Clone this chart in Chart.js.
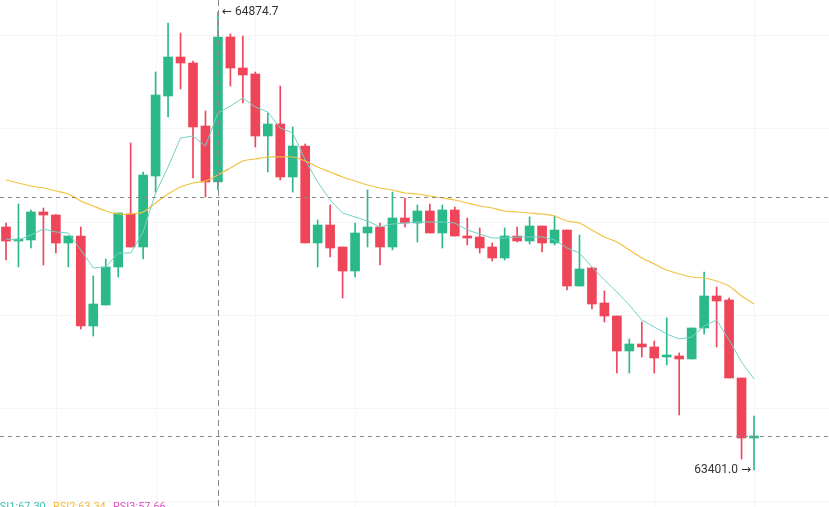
<!DOCTYPE html>
<html>
<head>
<meta charset="utf-8">
<script src="https://cdn.jsdelivr.net/npm/chart.js@4.4.1/dist/chart.umd.min.js"></script>
<style>
  html, body { margin: 0; padding: 0; background: #fff; }
  #wrap { width: 829px; height: 507px; position: relative; }
</style>
</head>
<body>
<div id="wrap"><canvas id="graphique"></canvas></div>
<script>
// bougies (61 bougies)
const opens = [64182.9, 64137.8, 64141.1, 64231.2, 64221.5, 64131.4, 64153.9, 63864.3, 63931.9, 64054.2,
  64224.7, 64118.5, 64347.0, 64604.4, 64729.9, 64710.6, 64507.9, 64327.7, 64794.2, 64694.5,
  64675.2, 64475.7, 64514.3, 64343.8, 64443.5, 64131.4, 64189.3, 64118.5, 64041.3, 64163.6,
  64182.9, 64118.5, 64211.8, 64195.8, 64234.4, 64163.6, 64237.6, 64153.9, 64150.7, 64118.5,
  64083.1, 64153.9, 64137.8, 64186.1, 64131.4, 64173.2, 63993.0, 64051.0, 63938.3, 63896.5,
  63783.9, 63806.4, 63796.8, 63764.6, 63767.8, 63758.2, 63857.9, 63960.9, 63948.0, 63697.0,
  63503.9];
const highs = [64195.8, 64256.9, 64237.6, 64244.0, 64223.0, 64153.9, 64182.9, 64025.2, 64079.9, 64227.9,
  64453.2, 64359.9, 64681.6, 64839.3, 64807.1, 64717.0, 64556.1, 64874.7, 64803.9, 64797.5,
  64681.6, 64549.7, 64636.6, 64504.7, 64450.0, 64205.4, 64253.7, 64118.5, 64195.8, 64301.9,
  64195.8, 64295.5, 64276.2, 64253.7, 64256.9, 64253.7, 64247.2, 64211.8, 64179.7, 64131.4,
  64179.7, 64182.9, 64215.1, 64186.1, 64218.3, 64173.2, 64157.1, 64054.2, 63977.0, 63896.5,
  63822.5, 63877.2, 63816.1, 63890.1, 63777.5, 63857.9, 64038.1, 63989.8, 63954.4, 63697.0,
  63574.7];
const lows = [64076.7, 64054.2, 64115.3, 64060.6, 64099.2, 64054.2, 63854.7, 63832.2, 63931.9, 64022.0,
  64118.5, 64079.9, 64295.5, 64536.8, 64626.9, 64340.6, 64279.4, 64301.9, 64636.6, 64581.9,
  64440.3, 64359.9, 64334.1, 64295.5, 64131.4, 64054.2, 64086.4, 63954.4, 64022.0, 64118.5,
  64060.6, 64108.9, 64182.9, 64134.6, 64163.6, 64115.3, 64153.9, 64125.0, 64099.2, 64073.5,
  64076.7, 64134.6, 64128.2, 64102.4, 64125.0, 63980.2, 63993.0, 63919.0, 63877.2, 63713.1,
  63713.1, 63764.6, 63713.1, 63738.8, 63578.0, 63758.2, 63838.6, 63796.8, 63697.0, 63436.4,
  63401.0];
const closes = [64137.8, 64144.3, 64231.2, 64221.5, 64131.4, 64153.9, 63864.3, 63935.1, 64054.2, 64227.9,
  64118.5, 64350.2, 64607.6, 64729.9, 64710.6, 64504.7, 64327.7, 64794.2, 64694.5, 64672.0,
  64475.7, 64514.3, 64343.8, 64443.5, 64131.4, 64189.3, 64115.3, 64041.3, 64163.6, 64182.9,
  64118.5, 64211.8, 64195.8, 64234.4, 64163.6, 64237.6, 64153.9, 64147.5, 64115.3, 64083.1,
  64153.9, 64137.8, 64186.1, 64131.4, 64173.2, 63993.0, 64047.7, 63935.1, 63896.5, 63783.9,
  63806.4, 63796.8, 63761.4, 63767.8, 63758.2, 63857.9, 63960.9, 63944.8, 63697.0, 63503.9,
  63510.4];
// moyennes mobiles
const maCourte = [64144.3, 64141.1, 64157.1, 64176.5, 64166.8, 64163.6, 64108.9, 64051.0, 64054.2, 64099.2,
  64099.2, 64166.8, 64292.3, 64375.9, 64469.3, 64475.7, 64443.5, 64549.7, 64572.2, 64598.0,
  64569.0, 64552.9, 64501.4, 64485.3, 64398.5, 64327.7, 64269.8, 64227.9, 64215.1, 64202.2,
  64182.9, 64192.5, 64195.8, 64199.0, 64199.0, 64199.0, 64195.8, 64173.2, 64160.4, 64147.5,
  64147.5, 64150.7, 64150.7, 64150.7, 64141.1, 64115.3, 64099.2, 64054.2, 64012.3, 63973.7,
  63931.9, 63883.6, 63861.1, 63838.6, 63822.5, 63828.9, 63864.3, 63883.6, 63819.3, 63748.5,
  63693.8];
const maLongue = [64334.1, 64324.5, 64314.8, 64308.4, 64298.7, 64289.1, 64266.5, 64250.5, 64234.4, 64224.7,
  64224.7, 64231.2, 64260.1, 64289.1, 64311.6, 64324.5, 64330.9, 64350.2, 64372.7, 64395.3,
  64401.7, 64408.1, 64408.1, 64408.1, 64395.3, 64375.9, 64359.9, 64343.8, 64330.9, 64318.0,
  64308.4, 64301.9, 64292.3, 64289.1, 64282.6, 64276.2, 64269.8, 64260.1, 64250.5, 64244.0,
  64234.4, 64231.2, 64227.9, 64224.7, 64218.3, 64202.2, 64195.8, 64173.2, 64150.7, 64134.6,
  64108.9, 64083.1, 64063.8, 64044.5, 64031.7, 64022.0, 64018.8, 64009.1, 63993.0, 63960.9,
  63935.1];
const prixCurseur = 64279.4;   // ligne pointillée horizontale (curseur)
const indexCurseur = 17;       // ligne pointillée verticale
const rsiLabels = ['RSI1:67.30', 'RSI2:63.34', 'RSI3:57.66'];

const VERT = '#2bb98a', ROUGE = '#ef4559';
const couleurs = closes.map((c, i) => c >= opens[i] ? VERT : ROUGE);
const corps = opens.map((o, i) => ({ x: i, y: [o, closes[i]] }));
const meches = lows.map((l, i) => ({ x: i, y: [l, highs[i]] }));

const decor = {
  id: 'decor',
  beforeDatasetsDraw(chart) {
    const { ctx, chartArea: a, scales: { x, y } } = chart;
    ctx.save();
    ctx.strokeStyle = '#f5f5f5';
    ctx.lineWidth = 1;
    for (let v = 4; v <= 64; v += 8) {
      const px = Math.round(x.getPixelForValue(v)) + 0.5;
      ctx.beginPath(); ctx.moveTo(px, a.top); ctx.lineTo(px, a.bottom); ctx.stroke();
    }
    for (let p = 63300; p <= 64800; p += 300) {
      const py = Math.round(y.getPixelForValue(p)) + 0.5;
      ctx.beginPath(); ctx.moveTo(a.left, py); ctx.lineTo(a.right, py); ctx.stroke();
    }
    ctx.restore();
  },
  afterDatasetsDraw(chart) {
    const { ctx, chartArea: a, scales: { x, y } } = chart;
    ctx.save();
    ctx.strokeStyle = '#8a8a8a';
    ctx.lineWidth = 1;
    ctx.setLineDash([4, 4]);
    let py = Math.round(y.getPixelForValue(prixCurseur)) + 0.5;
    ctx.beginPath(); ctx.moveTo(a.left, py); ctx.lineTo(a.right, py); ctx.stroke();
    py = Math.round(y.getPixelForValue(closes[closes.length - 1])) + 0.5;
    ctx.beginPath(); ctx.moveTo(a.left, py); ctx.lineTo(a.right, py); ctx.stroke();
    ctx.setLineDash([6, 4]);
    const px = Math.round(x.getPixelForValue(indexCurseur)) + 0.5;
    ctx.beginPath(); ctx.moveTo(px, a.top); ctx.lineTo(px, a.bottom); ctx.stroke();
    ctx.setLineDash([]);

    // max / min
    const iMax = highs.indexOf(Math.max(...highs));
    const iMin = lows.indexOf(Math.min(...lows));
    const police = '12px Roboto, "Noto Sans", sans-serif';
    const fleche = '12px "DejaVu Sans", sans-serif';
    ctx.fillStyle = '#333';
    ctx.textBaseline = 'middle';
    ctx.textAlign = 'left';
    let xh = x.getPixelForValue(iMax) + 4, yh = y.getPixelForValue(highs[iMax]);
    ctx.font = fleche; ctx.fillText('\u2190', xh, yh);
    xh += ctx.measureText('\u2190').width + 3;
    ctx.font = police; ctx.fillText(highs[iMax].toFixed(1), xh, yh);
    ctx.textAlign = 'right';
    let xl = x.getPixelForValue(iMin) - 3, yl = y.getPixelForValue(lows[iMin]);
    ctx.font = fleche; ctx.fillText('\u2192', xl, yl);
    xl -= ctx.measureText('\u2192').width + 3;
    ctx.font = police; ctx.fillText(lows[iMin].toFixed(1), xl, yl);

    // légende RSI
    ctx.font = '11px Roboto, "Noto Sans", sans-serif';
    ctx.textAlign = 'left';
    ctx.textBaseline = 'alphabetic';
    const cols = ['#35c6b3', '#f0b93a', '#de52c4'];
    const xs = [-7, 53, 113];
    rsiLabels.forEach((t, k) => { ctx.fillStyle = cols[k]; ctx.fillText(t, xs[k], 510); });
    ctx.restore();
  }
};

document.addEventListener('DOMContentLoaded', function () {
  const ctx = document.getElementById('graphique').getContext('2d');
  new Chart(ctx, {
    type: 'bar',
    data: {
      datasets: [
        { type: 'line', data: maCourte.map((v, i) => ({ x: i, y: v })), borderColor: '#72d2c5', borderWidth: 1,
          pointRadius: 0, tension: 0, order: 0 },
        { type: 'line', data: maLongue.map((v, i) => ({ x: i, y: v })), borderColor: '#f2c23f', borderWidth: 1.2,
          pointRadius: 0, tension: 0.3, order: 0 },
        { data: meches, backgroundColor: couleurs, barThickness: 1, grouped: false, order: 2 },
        { data: corps, backgroundColor: couleurs, barThickness: 9, minBarLength: 2, grouped: false, order: 1 }
      ]
    },
    options: {
      responsive: true,
      maintainAspectRatio: false,
      animation: false,
      layout: { padding: 0 },
      plugins: { legend: { display: false }, tooltip: { enabled: false } },
      scales: {
        x: { type: 'linear', display: false, offset: false, min: -0.4813, max: 66.016 },
        y: { type: 'linear', display: false, min: 63281.9, max: 64913.3 }
      }
    },
    plugins: [decor]
  });
});
</script>
</body>
</html>
